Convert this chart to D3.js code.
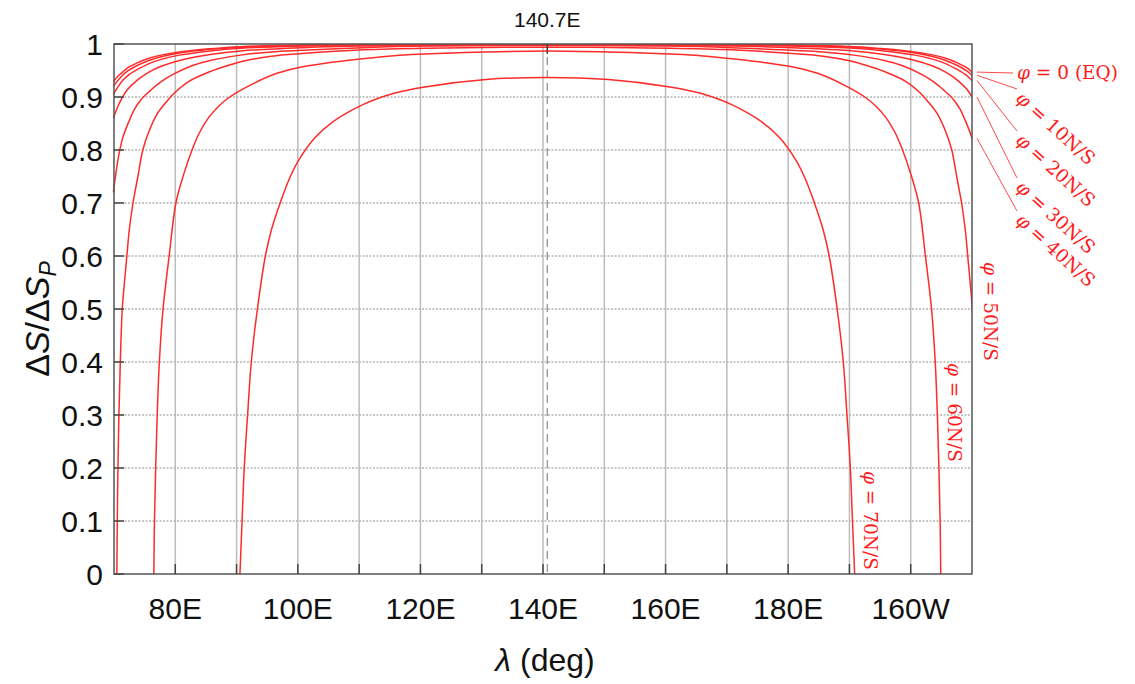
<!DOCTYPE html>
<html>
<head>
<meta charset="utf-8">
<script src="https://cdn.jsdelivr.net/npm/d3@7"></script>
<style>
  body { margin: 0; background: #fff; }
  svg { display: block; }
</style>
</head>
<body>
<div id="chart"></div>
<script>
// sub-satellite longitude (deg E)
var lonSat = 140.7;

var xTicks = [80, 100, 120, 140, 160, 180, 200];
var xTickLabels = ["80E", "100E", "120E", "140E", "160E", "180E", "160W"];
var yTicks = [0, 0.1, 0.2, 0.3, 0.4, 0.5, 0.6, 0.7, 0.8, 0.9, 1];

// [offset from 140.7 (deg), dS/dSp], curves are symmetric
var phi0 = [[0, 1.000], [30, 0.999], [40, 0.998], [50, 0.995], [55, 0.991], [60, 0.985], [63, 0.979], [65, 0.973], [67, 0.964], [68.5, 0.955], [69.3, 0.947], [70, 0.940], [70.8, 0.929]];
var phi10 = [[0, 1.000], [30, 0.999], [40, 0.997], [50, 0.994], [55, 0.990], [60, 0.983], [63, 0.976], [65, 0.969], [67, 0.959], [68.5, 0.949], [69.3, 0.941], [70, 0.932], [70.8, 0.920]];
var phi20 = [[0, 0.999], [30, 0.998], [40, 0.996], [50, 0.992], [55, 0.987], [60, 0.979], [63, 0.971], [65, 0.963], [67, 0.951], [68.5, 0.940], [69.3, 0.931], [70, 0.920], [70.8, 0.905]];
var phi30 = [[0, 0.998], [30, 0.996], [40, 0.993], [50, 0.987], [55, 0.980], [60, 0.969], [63, 0.958], [65, 0.947], [67, 0.931], [68.5, 0.914], [69.3, 0.900], [70, 0.884], [70.8, 0.860]];
var phi40 = [[0, 0.997], [20, 0.996], [30, 0.993], [40, 0.988], [45, 0.985], [50, 0.979], [55, 0.969], [58, 0.959], [61, 0.943], [63, 0.929], [65, 0.910], [66.3, 0.895], [67.3, 0.878], [68.3, 0.853], [69.3, 0.822], [70, 0.785], [70.8, 0.720]];
var phi50 = [[0, 0.994], [20, 0.992], [30, 0.989], [40, 0.982], [45, 0.977], [49.5, 0.968], [52, 0.960], [55, 0.948], [58.4, 0.930], [60.9, 0.907], [62.2, 0.890], [63.6, 0.869], [65, 0.835], [66, 0.80], [66.8, 0.75], [67.6, 0.70], [68.2, 0.65], [68.6, 0.60], [69.0, 0.55], [69.35, 0.50], [69.67, 0.40], [69.9, 0.30], [70.06, 0.20], [70.16, 0.10], [70.23, 0]];
var phi60 = [[0, 0.987], [10, 0.985], [20, 0.981], [25, 0.978], [31, 0.971], [36, 0.964], [40.7, 0.955], [45, 0.941], [49, 0.919], [51.8, 0.90], [53.5, 0.884], [55.2, 0.862], [56.7, 0.834], [57.8, 0.805], [59.3, 0.755], [60.6, 0.70], [61.7, 0.60], [62.7, 0.50], [63.3, 0.40], [63.65, 0.30], [63.9, 0.20], [64.1, 0.10], [64.2, 0]];
var phi70 = [[0, 0.937], [10, 0.933], [20, 0.919], [25, 0.907], [30, 0.886], [35, 0.853], [38, 0.822], [40.7, 0.778], [42, 0.748], [43.5, 0.703], [45, 0.65], [46, 0.60], [47.3, 0.50], [48.3, 0.40], [48.9, 0.30], [49.45, 0.20], [49.8, 0.10], [50.15, 0]];

var curves = [phi0, phi10, phi20, phi30, phi40, phi50, phi60, phi70];

var W = 1135, H = 684;
var pL = 114, pR = 972, pT = 44, pB = 574;

var svg = d3.select("#chart").append("svg")
    .attr("width", W)
    .attr("height", H);

var x = d3.scaleLinear().domain([70, 210]).range([pL, pR]);
var y = d3.scaleLinear().domain([0, 1]).range([pB, pT]);

svg.append("clipPath").attr("id", "plotclip")
  .append("rect")
    .attr("x", pL - 2).attr("y", pT)
    .attr("width", pR - pL + 2).attr("height", pB - pT);

// vertical grid, every 10 deg
svg.append("g").selectAll("line")
    .data(d3.range(80, 201, 10))
    .enter().append("line")
    .attr("x1", function (d) { return x(d); })
    .attr("x2", function (d) { return x(d); })
    .attr("y1", pT).attr("y2", pB)
    .style("stroke", "#bcbcbc")
    .style("stroke-width", 1.5);

// horizontal grid, dotted
svg.append("g").selectAll("line")
    .data(yTicks.slice(1, -1))
    .enter().append("line")
    .attr("x1", pL).attr("x2", pR)
    .attr("y1", function (d) { return y(d); })
    .attr("y2", function (d) { return y(d); })
    .style("stroke", "#b4b4b4")
    .style("stroke-width", 1.5)
    .style("stroke-dasharray", "2,1.5");

// sub-satellite longitude
svg.append("line")
    .attr("x1", x(lonSat)).attr("x2", x(lonSat))
    .attr("y1", pT).attr("y2", pB)
    .style("stroke", "#8c8c8c")
    .style("stroke-width", 1.2)
    .style("stroke-dasharray", "8,5");

// curves: mirror the offsets around 140.7
function toPoints(c) {
    var pts = [];
    for (var i = c.length - 1; i > 0; i--) pts.push([lonSat - c[i][0], c[i][1]]);
    for (var j = 0; j < c.length; j++) pts.push([lonSat + c[j][0], c[j][1]]);
    return pts;
}

var line = d3.line()
    .x(function (d) { return x(d[0]); })
    .y(function (d) { return y(d[1]); })
    .curve(d3.curveCatmullRom.alpha(0.5));

svg.append("g")
    .attr("clip-path", "url(#plotclip)")
    .selectAll("path")
    .data(curves)
    .enter().append("path")
    .attr("d", function (d) { return line(toPoints(d)); })
    .style("fill", "none")
    .style("stroke", "#ff2a2a")
    .style("stroke-width", 1.5);

// frame
svg.append("rect")
    .attr("x", pL).attr("y", pT)
    .attr("width", pR - pL).attr("height", pB - pT)
    .style("fill", "none")
    .style("stroke", "#555")
    .style("stroke-width", 1.5);

// inward ticks
svg.append("g").selectAll("line")
    .data(yTicks)
    .enter().append("line")
    .attr("x1", pL).attr("x2", pL + 10)
    .attr("y1", function (d) { return y(d); })
    .attr("y2", function (d) { return y(d); })
    .style("stroke", "#444").style("stroke-width", 1.5);

svg.append("g").selectAll("line")
    .data(d3.range(80, 201, 10))
    .enter().append("line")
    .attr("x1", function (d) { return x(d); })
    .attr("x2", function (d) { return x(d); })
    .attr("y1", pB).attr("y2", pB - 10)
    .style("stroke", "#444").style("stroke-width", 1.5);

svg.append("line")
    .attr("x1", x(lonSat)).attr("x2", x(lonSat))
    .attr("y1", pT).attr("y2", pT + 10)
    .style("stroke", "#444").style("stroke-width", 1.5);

// tick labels
var sans = "'Liberation Sans', Arial, sans-serif";

svg.append("g").selectAll("text")
    .data(yTicks)
    .enter().append("text")
    .attr("x", pL - 11)
    .attr("y", function (d) { return y(d); })
    .attr("dy", "0.36em")
    .attr("text-anchor", "end")
    .style("font-family", sans)
    .style("font-size", "30px")
    .style("fill", "#111")
    .text(function (d) { return d3.format("~g")(d); });

svg.append("g").selectAll("text")
    .data(xTicks)
    .enter().append("text")
    .attr("x", function (d) { return x(d); })
    .attr("y", 619)
    .attr("text-anchor", "middle")
    .style("font-family", sans)
    .style("font-size", "30px")
    .style("fill", "#111")
    .text(function (d, i) { return xTickLabels[i]; });

svg.append("text")
    .attr("x", x(lonSat)).attr("y", 27)
    .attr("text-anchor", "middle")
    .style("font-family", sans)
    .style("font-size", "21px")
    .style("fill", "#111")
    .text("140.7E");

// axis titles
var xt = svg.append("text")
    .attr("x", (pL + pR) / 2 + 2).attr("y", 671)
    .attr("text-anchor", "middle")
    .style("font-family", sans)
    .style("font-size", "32px")
    .style("fill", "#111");
xt.append("tspan").style("font-style", "italic").text("λ");
xt.append("tspan").text(" (deg)");

var yt = svg.append("text")
    .attr("transform", "translate(49," + ((pT + pB) / 2 + 10) + ") rotate(-90)")
    .attr("text-anchor", "middle")
    .style("font-family", sans)
    .style("font-size", "34px")
    .style("fill", "#111");
yt.append("tspan").text("Δ");
yt.append("tspan").style("font-style", "italic").text("S");
yt.append("tspan").text("/Δ");
yt.append("tspan").style("font-style", "italic").text("S");
yt.append("tspan").style("font-style", "italic").style("font-size", "23px").attr("dy", 7).text("P");

// curve labels
var serif = "'DejaVu Serif', 'Liberation Serif', serif";
var xEdge = x.domain()[1] - lonSat;

function valueAt(c, d) {
    for (var i = 1; i < c.length; i++) {
        if (c[i][0] >= d) {
            var t = (d - c[i - 1][0]) / (c[i][0] - c[i - 1][0]);
            return c[i - 1][1] + t * (c[i][1] - c[i - 1][1]);
        }
    }
    return c[c.length - 1][1];
}

var sideLabels = [
    { txt: "0 (EQ)", c: phi0, ex: 1013, ey: 73, tx: 1017, ty: 73, rot: 0 },
    { txt: "10N/S", c: phi10, ex: 1017, ey: 89, tx: 1019, ty: 95, rot: 42 },
    { txt: "20N/S", c: phi20, ex: 1017, ey: 131, tx: 1019, ty: 137, rot: 42 },
    { txt: "30N/S", c: phi30, ex: 1017, ey: 178, tx: 1019, ty: 184, rot: 42 },
    { txt: "40N/S", c: phi40, ex: 1017, ey: 211, tx: 1019, ty: 217, rot: 42 }
];

sideLabels.forEach(function (l) {
    svg.append("line")
        .attr("x1", pR + 5).attr("y1", y(valueAt(l.c, xEdge)))
        .attr("x2", l.ex).attr("y2", l.ey)
        .style("stroke", "#ff4a4a").style("stroke-width", 1);
    var t = svg.append("text")
        .attr("transform", "translate(" + l.tx + "," + l.ty + ") rotate(" + l.rot + ")")
        .attr("dy", "0.35em")
        .style("font-family", serif)
        .style("font-size", "18.5px")
        .style("fill", "#ff1a1a");
    t.append("tspan").style("font-style", "italic").text("φ");
    t.append("tspan").text(" = " + l.txt);
});

var vertLabels = [
    { txt: "50N/S", tx: 990, ty: 262 },
    { txt: "60N/S", tx: 954, ty: 363 },
    { txt: "70N/S", tx: 870, ty: 471 }
];

vertLabels.forEach(function (l) {
    var t = svg.append("text")
        .attr("transform", "translate(" + l.tx + "," + l.ty + ") rotate(90)")
        .attr("dy", "0.35em")
        .style("font-family", serif)
        .style("font-size", "18.5px")
        .style("fill", "#ff1a1a");
    t.append("tspan").style("font-style", "italic").text("φ");
    t.append("tspan").text(" = " + l.txt);
});
</script>
</body>
</html>
